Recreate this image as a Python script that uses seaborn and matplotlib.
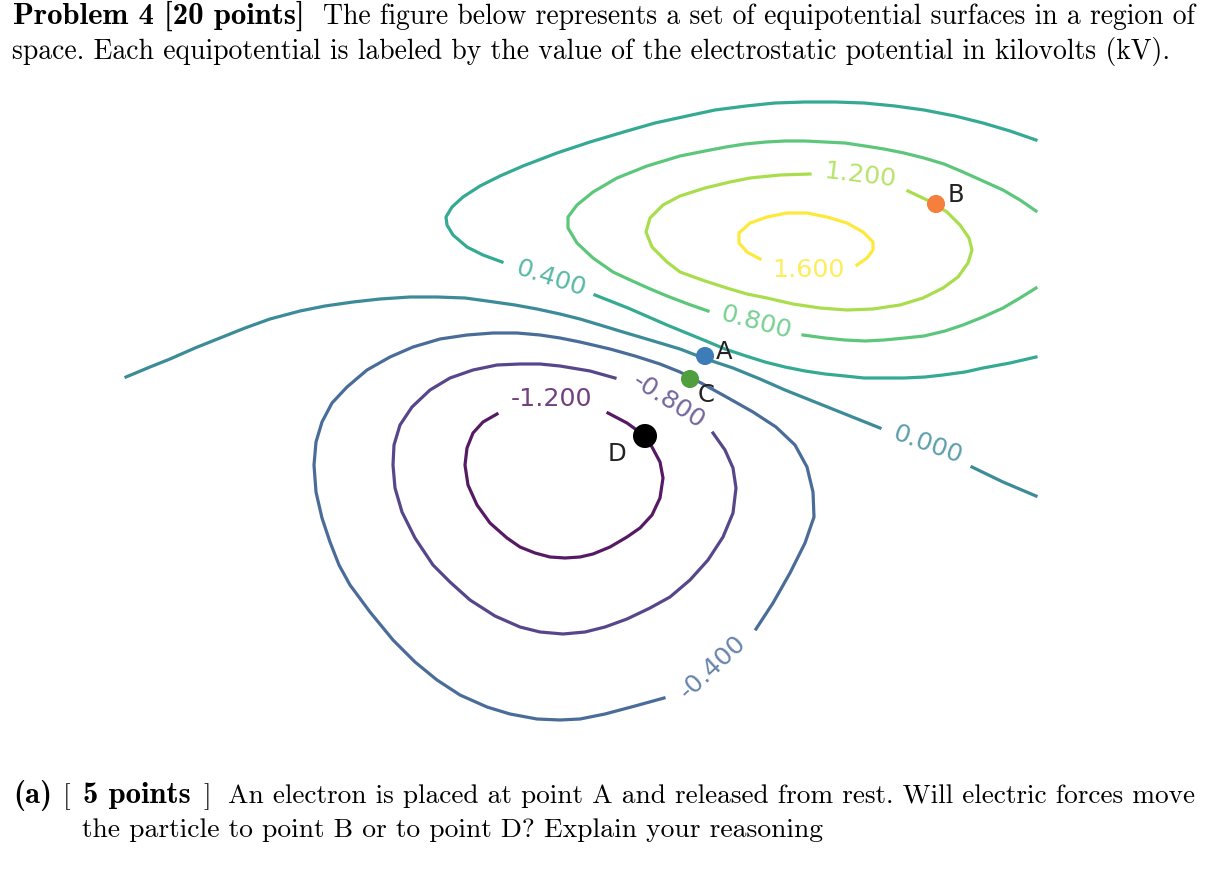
import matplotlib
matplotlib.use('Agg')
import matplotlib.pyplot as plt
import numpy as np
import pandas as pd
import seaborn as sns

# contour levels in kV, each contour as (x, y) in picture units
levels = [-1.2, -0.8, -0.4, 0.0, 0.4, 0.8, 1.2, 1.6]

neg120 = [(497, 414), (483, 422), (473, 433), (467, 448), (465, 465), (468, 485), (477, 505),
          (490, 523), (507, 538), (520, 547), (535, 553), (550, 557), (565, 558), (580, 557),
          (593, 554), (610, 547), (627, 537), (640, 528), (652, 515), (660, 498), (663, 478),
          (660, 462), (652, 447), (645, 436), (627, 423), (608, 413)]
neg080 = [(615, 378), (590, 371), (560, 366), (540, 364), (520, 364), (497, 365), (473, 370),
          (450, 378), (430, 390), (412, 407), (400, 425), (394, 445), (393, 465), (395, 488),
          (402, 512), (415, 538), (433, 565), (450, 582), (470, 600), (495, 616), (520, 627),
          (540, 632), (563, 634), (585, 632), (605, 627), (627, 619), (650, 608), (670, 597),
          (690, 580), (708, 560), (723, 537), (733, 513), (736, 488), (733, 468), (725, 450),
          (713, 433)]
neg040 = [(664, 698), (635, 706), (605, 714), (580, 719), (560, 720), (537, 719), (510, 714),
          (487, 707), (460, 695), (437, 680), (415, 662), (393, 640), (370, 612), (350, 585),
          (339, 565), (330, 542), (322, 518), (316, 492), (314, 465), (316, 442), (322, 422),
          (332, 403), (347, 387), (367, 370), (390, 357), (413, 347), (440, 339), (467, 335),
          (493, 333), (517, 333), (540, 335), (560, 338), (580, 342), (610, 349), (635, 356),
          (660, 364), (680, 372), (703, 384), (730, 399), (753, 412), (776, 427), (795, 445),
          (807, 467), (813, 492), (814, 517), (805, 543), (790, 573), (773, 603), (756, 629)]
zero_a = [(126, 377), (150, 367), (170, 359), (195, 348), (220, 338), (245, 328), (270, 319),
          (300, 311), (325, 306), (353, 302), (380, 299), (410, 297), (437, 297), (465, 298),
          (487, 301), (515, 305), (537, 309), (560, 314), (580, 319), (600, 325), (623, 332),
          (650, 340), (680, 349), (706, 359), (733, 368), (760, 379), (785, 390), (810, 400),
          (845, 414), (880, 428)]
zero_b = [(972, 467), (1003, 482), (1036, 496)]
pos040_a = [(1036, 140), (1010, 131), (983, 123), (955, 116), (924, 110), (895, 106), (864, 103),
            (835, 102), (805, 102), (775, 103), (746, 106), (715, 110), (687, 116), (655, 123),
            (627, 131), (590, 142), (557, 153), (523, 166), (500, 176), (480, 186), (463, 197),
            (452, 207), (446, 217), (447, 225), (453, 235), (467, 247), (483, 255), (502, 262)]
pos040_b = [(595, 295), (628, 308), (667, 325), (706, 341), (725, 349), (746, 356), (765, 362),
            (785, 367), (805, 371), (825, 374), (845, 376), (864, 378), (885, 378), (904, 378),
            (925, 377), (943, 375), (965, 372), (983, 368), (1010, 363), (1036, 357)]
pos080_a = [(1036, 211), (1020, 200), (1003, 190), (983, 181), (963, 172), (944, 164), (924, 158),
            (904, 153), (884, 149), (865, 146), (845, 143), (825, 142), (805, 141), (785, 141),
            (766, 142), (745, 144), (726, 147), (705, 151), (680, 156), (647, 166), (617, 178),
            (593, 192), (577, 205), (568, 217), (568, 228), (577, 243), (593, 258), (613, 272),
            (628, 279), (648, 288), (667, 296), (688, 304), (708, 311)]
pos080_b = [(803, 335), (825, 338), (845, 340), (865, 341), (884, 340), (905, 338), (924, 336),
            (945, 331), (963, 325), (983, 317), (1003, 308), (1020, 298), (1036, 288)]
pos120 = [(810, 174), (780, 175), (750, 178), (730, 182), (705, 188), (680, 196), (663, 205),
          (650, 218), (646, 232), (652, 247), (667, 262), (680, 272), (705, 281), (730, 289),
          (747, 294), (767, 298), (793, 304), (820, 308), (847, 310), (873, 309), (900, 305),
          (923, 298), (943, 288), (958, 277), (968, 263), (972, 250), (969, 238), (960, 225),
          (947, 212), (927, 200), (908, 191)]
pos160 = [(760, 259), (747, 252), (739, 243), (739, 233), (750, 223), (767, 217), (787, 213),
          (807, 213), (827, 217), (847, 223), (863, 232), (873, 242), (873, 250), (867, 258),
          (857, 265)]

contours = {
    -1.2: [neg120], -0.8: [neg080], -0.4: [neg040], 0.0: [zero_a, zero_b],
    0.4: [pos040_a, pos040_b], 0.8: [pos080_a, pos080_b], 1.2: [pos120], 1.6: [pos160],
}

# inline labels: text, x, y, rotation, level
level_labels = [('-1.200', 552, 399, 0, -1.2), ('-0.800', 669, 401, -33, -0.8),
                ('-0.400', 713, 667, 43, -0.4), ('0.000', 928, 445, -20, 0.0),
                ('0.400', 551, 279, -18, 0.4), ('0.800', 756, 323, -15, 0.8),
                ('1.200', 860, 175, -7, 1.2), ('1.600', 808, 270, 0, 1.6)]

point_names = ['A', 'B', 'C', 'D']
point_x = [705, 936, 690, 645]
point_y = [356, 204, 379, 436]
point_colors = ['#3c7db8', '#f57f3c', '#4f9f3f', '#000000']
point_sizes = [170, 170, 170, 300]
name_x = [724, 956, 706, 617]
name_y = [352, 195, 395, 454]

viridis = sns.color_palette('viridis', as_cmap=True)
level_colors = dict(zip(levels, viridis(np.linspace(0, 1, len(levels)))))

fig = plt.figure(figsize=(12.1, 8.86), dpi=100)
ax = fig.add_axes([0, 0, 1, 1])

for level, segments in contours.items():
    for seg in segments:
        df = pd.DataFrame(seg, columns=['x', 'y'])
        sns.lineplot(data=df, x='x', y='y', ax=ax, sort=False, estimator=None,
                     color=level_colors[level], lw=2.3, alpha=0.9, solid_joinstyle='round')

for label, x, y, rot, level in level_labels:
    ax.text(x, y, label, color=level_colors[level], fontsize=18.3, rotation=rot,
            ha='center', va='center', alpha=0.75, rotation_mode='anchor')

points = pd.DataFrame({'x': point_x, 'y': point_y, 'name': point_names})
sns.scatterplot(data=points, x='x', y='y', hue='name', palette=point_colors, size='name',
                sizes=dict(zip(point_names, point_sizes)), ax=ax, legend=False,
                linewidth=0, zorder=3)
for name, x, y in zip(point_names, name_x, name_y):
    ax.text(x, y, name, fontsize=17.5, ha='center', va='center', color='#222222', zorder=4)

ax.set_xlim(0, 1210)
ax.set_ylim(886, 0)
ax.axis('off')

# surrounding problem text
reg = dict(family='cmr10', color='black', va='baseline')
bold = dict(family='cmb10', fontsize=22.2, color='black', va='baseline')
ax.text(13, 24, 'Problem 4 [20 points]', **bold)
ax.text(323, 24, 'The figure below represents a set of equipotential surfaces in a region of', fontsize=19.9, **reg)
ax.text(12, 59, 'space. Each equipotential is labeled by the value of the electrostatic potential in kilovolts (kV).', fontsize=19.95, **reg)
ax.text(13, 803, '(a)', **bold)
ax.text(63, 803, '[', fontsize=19.8, **reg)
ax.text(83, 803, '5 points', **bold)
ax.text(203, 803, ']', fontsize=19.8, **reg)
ax.text(228, 803, 'An electron is placed at point A and released from rest. Will electric forces move', fontsize=19.66, **reg)
ax.text(82, 837, 'the particle to point B or to point D? Explain your reasoning', fontsize=19.83, **reg)

fig.savefig('out.png', dpi=100)
